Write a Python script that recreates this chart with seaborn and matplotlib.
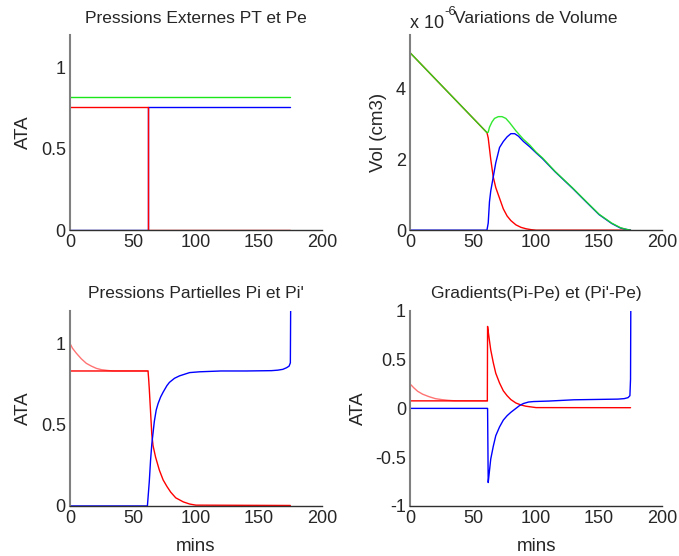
import numpy as np
import matplotlib
matplotlib.use("Agg")
import matplotlib.pyplot as plt
import seaborn as sns

# ---- data (time in mins) ----
# Pressions externes PT et Pe
pt_t = [0, 175]
pt_v = [0.82, 0.82]
pe_t = [0, 62, 62, 175]
pe_v = [0.755, 0.755, 0.0, 0.0]
pe2_t = [0, 62, 62, 175]
pe2_v = [0.0, 0.0, 0.755, 0.755]

# Variations de volume (x 1e-6 cm3)
vol_tot_t = [0, 61, 62, 63, 65, 67, 70, 73, 76, 79, 84, 90, 95, 100, 105, 115,
             129, 140, 150, 160, 167, 172, 175]
vol_tot_v = [5.0, 2.75, 2.76, 2.9, 3.05, 3.15, 3.2, 3.2, 3.15, 3.03, 2.8, 2.56,
             2.4, 2.2, 2.04, 1.66, 1.19, 0.8, 0.45, 0.2, 0.07, 0.02, 0.0]
vol_1_t = [0, 61, 62, 63, 64, 65, 66, 68, 71, 74, 77, 80, 84, 88, 92, 96, 100, 175]
vol_1_v = [5.0, 2.75, 2.6, 2.3, 2.0, 1.75, 1.5, 1.2, 0.9, 0.6, 0.4, 0.27, 0.15,
           0.08, 0.04, 0.015, 0.0, 0.0]
vol_2_t = [0, 61, 62, 63, 64, 65, 66, 68, 71, 74, 77, 80, 83, 86, 90, 95, 100,
           105, 115, 129, 140, 150, 160, 167, 172, 175]
vol_2_v = [0.0, 0.0, 0.2, 0.8, 1.1, 1.3, 1.5, 1.9, 2.33, 2.5, 2.63, 2.72, 2.72,
           2.65, 2.5, 2.35, 2.18, 2.02, 1.65, 1.18, 0.79, 0.44, 0.19, 0.06, 0.02, 0.0]

# Pressions partielles Pi et Pi'
pi_a_t = [0, 2, 5, 9, 13, 17, 21, 25, 30, 35, 62]
pi_a_v = [1.0, 0.97, 0.94, 0.905, 0.877, 0.86, 0.846, 0.838, 0.833, 0.83, 0.83]
pi_b_t = [0, 62, 62.5, 63, 64, 65, 66, 68, 71, 74, 77, 80, 84, 90, 95, 100, 175]
pi_b_v = [0.83, 0.83, 0.78, 0.72, 0.58, 0.44, 0.37, 0.3, 0.22, 0.16, 0.12, 0.085,
          0.05, 0.025, 0.012, 0.005, 0.003]
pip_t = [0, 61.5, 62, 63, 64, 65, 66, 67, 68.5, 70, 72, 74, 77, 79, 83, 87, 91, 95,
         103, 120, 140, 160, 165, 169, 172, 174, 175, 175.3]
pip_v = [0.0, 0.0, 0.05, 0.15, 0.28, 0.38, 0.45, 0.52, 0.59, 0.63, 0.67, 0.70,
         0.74, 0.76, 0.785, 0.80, 0.81, 0.82, 0.825, 0.83, 0.83, 0.832, 0.835,
         0.84, 0.85, 0.86, 0.88, 1.3]

# Gradients (Pi-Pe) et (Pi'-Pe)
gr_a_t = [0, 3, 6, 10, 15, 20, 25, 30, 35, 61.5]
gr_a_v = [0.25, 0.21, 0.175, 0.145, 0.12, 0.1, 0.09, 0.083, 0.078, 0.077]
gr_b_t = [0, 61.3, 61.5, 62.5, 64, 66, 68, 71, 74, 77, 80, 84, 88, 92, 96, 100, 175]
gr_b_v = [0.077, 0.077, 0.84, 0.74, 0.6, 0.47, 0.36, 0.26, 0.18, 0.13, 0.09,
          0.055, 0.035, 0.022, 0.015, 0.008, 0.007]
gr_p_t = [0, 61.5, 62, 62.5, 63, 64, 66, 68, 71, 74, 77, 80, 84, 87, 90, 94, 98,
          110, 130, 150, 165, 170, 173, 174.5, 175, 175.2]
gr_p_v = [0.0, 0.0, -0.76, -0.7, -0.64, -0.52, -0.39, -0.28, -0.19, -0.12, -0.075,
          -0.04, 0.0, 0.03, 0.05, 0.065, 0.07, 0.075, 0.088, 0.092, 0.095, 0.1,
          0.11, 0.13, 0.3, 1.0]

RED = (1, 0, 0)
BLUE = (0, 0, 1)
GREEN = (0.1, 0.9, 0.1)

sns.set_style("white")
plt.rcParams["font.family"] = ["Liberation Sans", "DejaVu Sans"]


def line(ax, t, v, color, alpha=1.0):
    sns.lineplot(x=t, y=v, ax=ax, color=color, lw=1.0, alpha=alpha,
                 estimator=None, sort=False)


def style(ax, title, ylim, yticks, ylabel, xlabel=None):
    ax.set_xlim(0, 200)
    ax.set_ylim(*ylim)
    ax.set_xticks([0, 50, 100, 150, 200])
    ax.set_yticks(yticks)
    ax.set_yticklabels([f"{y:g}" for y in yticks])
    for s in ["top", "right"]:
        ax.spines[s].set_visible(False)
    ax.spines["left"].set_color("#808080")
    ax.spines["left"].set_linewidth(1.5)
    ax.spines["bottom"].set_color("#303030")
    ax.spines["bottom"].set_linewidth(1.0)
    ax.tick_params(direction="in", length=3, width=1, color="#202020",
                   labelsize=13, pad=3, top=False, right=False)
    ax.set_title(title, fontsize=12.5, pad=9)
    ax.set_ylabel(ylabel, fontsize=13.5, labelpad=6)
    if xlabel:
        ax.set_xlabel(xlabel, fontsize=13.5, labelpad=8)
    else:
        ax.set_xlabel("")


fig = plt.figure(figsize=(6.79, 5.56), dpi=100)
L1, L2, W = 0.103, 0.604, 0.371
ax1 = fig.add_axes([L1, 0.586, W, 0.351])
ax2 = fig.add_axes([L2, 0.586, W, 0.351])
ax3 = fig.add_axes([L1, 0.090, W, 0.351])
ax4 = fig.add_axes([L2, 0.090, W, 0.351])

# 1
line(ax1, pt_t, pt_v, GREEN)
line(ax1, pe2_t, pe2_v, BLUE)
line(ax1, pe_t, pe_v, RED)
style(ax1, "Pressions Externes PT et Pe", (0, 1.2), [0, 0.5, 1], "ATA")

# 2
line(ax2, vol_1_t, vol_1_v, RED)
line(ax2, vol_2_t, vol_2_v, BLUE)
line(ax2, vol_tot_t, vol_tot_v, GREEN, alpha=0.9)
style(ax2, "Variations de Volume", (0, 5.5), [0, 2, 4], "Vol (cm3)")
ax2.text(0.0, 1.06, "x 10", transform=ax2.transAxes, fontsize=13,
         ha="left", va="center")
ax2.text(0.135, 1.12, "-6", transform=ax2.transAxes, fontsize=9.5,
         ha="left", va="center")

# 3
line(ax3, pi_a_t, pi_a_v, RED, alpha=0.55)
line(ax3, pi_b_t, pi_b_v, RED)
line(ax3, pip_t, pip_v, BLUE)
style(ax3, "Pressions Partielles Pi et Pi'", (0, 1.2), [0, 0.5, 1], "ATA", "mins")

# 4
line(ax4, gr_a_t, gr_a_v, RED, alpha=0.55)
line(ax4, gr_b_t, gr_b_v, RED)
line(ax4, gr_p_t, gr_p_v, BLUE)
style(ax4, "Gradients(Pi-Pe) et (Pi'-Pe)", (-1, 1), [-1, -0.5, 0, 0.5, 1], "ATA", "mins")

fig.savefig("out.png", dpi=100)
